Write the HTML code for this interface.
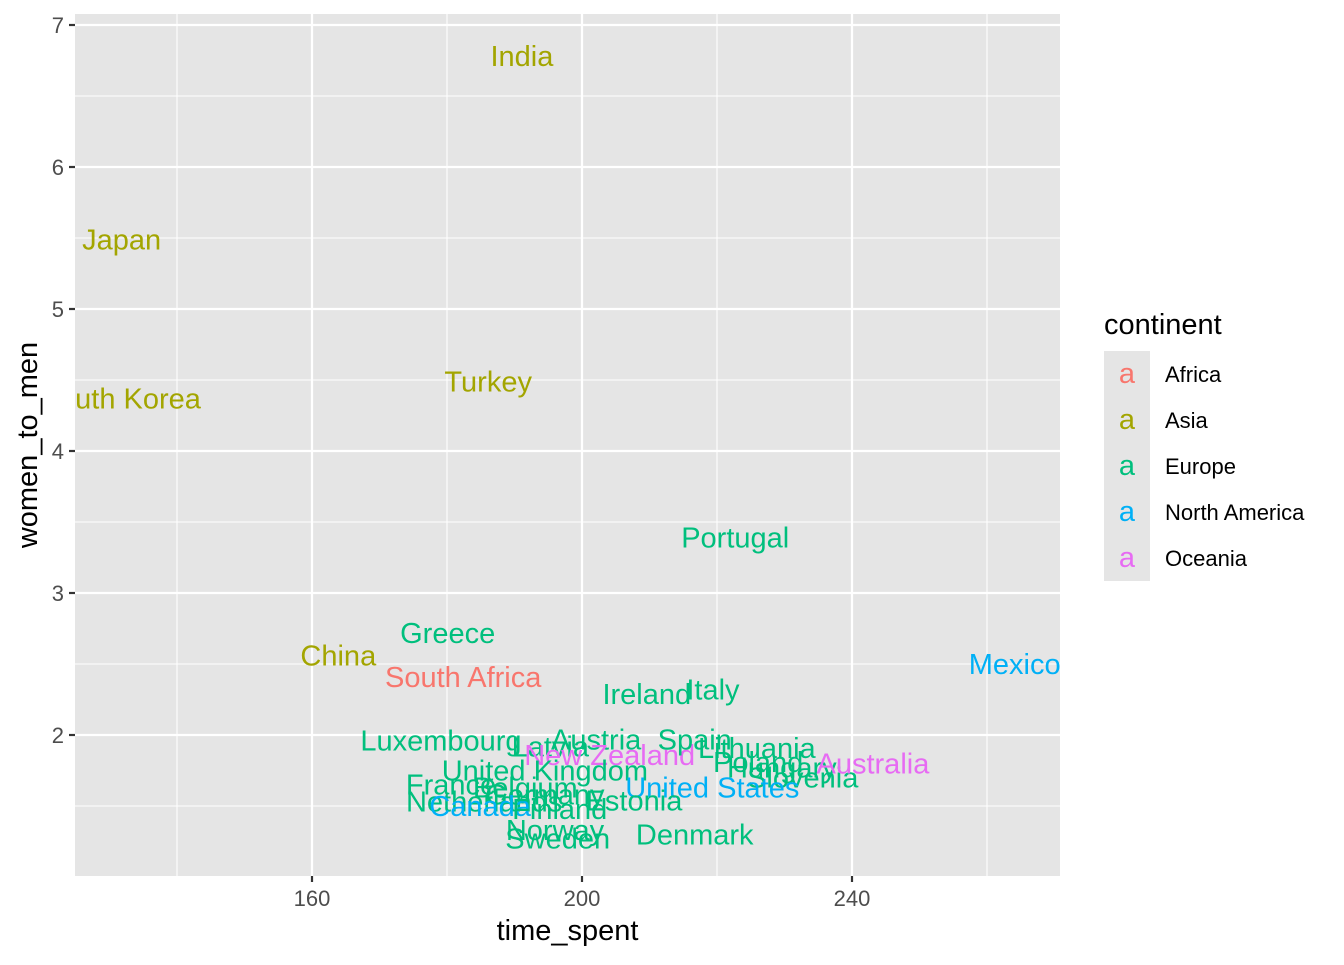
<!DOCTYPE html>
<html><head><meta charset="utf-8"><style>
body{margin:0;background:#fff;font-family:"Liberation Sans",Arial,sans-serif}
</style></head><body>
<svg id="chart" width="1344" height="960" xmlns="http://www.w3.org/2000/svg"></svg>
<script>
const countries=["India","Japan","South Korea","Turkey","Portugal","Greece","China","South Africa","Mexico","Ireland","Italy","Luxembourg","Austria","Latvia","New Zealand","Spain","Lithuania","Poland","Hungary","Slovenia","Australia","United Kingdom","France","Belgium","Germany","United States","Estonia","Netherlands","Canada","Finland","Norway","Sweden","Denmark"];
const continents=["Asia","Asia","Asia","Asia","Europe","Europe","Asia","Africa","North America","Europe","Europe","Europe","Europe","Europe","Oceania","Europe","Europe","Europe","Europe","Europe","Oceania","Europe","Europe","Europe","Europe","North America","Europe","Europe","North America","Europe","Europe","Europe","Europe"];
const timeSpent=[191.1,131.8,131.6,186.1,222.7,180.1,163.9,182.4,264.1,209.6,219.4,179.1,202.1,195.3,204.1,216.7,225.9,226.1,229.6,232.7,243.1,194.5,180.6,191.6,194.5,219.3,207.7,185.5,184.9,196.7,196.0,196.4,216.7];
const womenToMen=[6.78,5.49,4.37,4.49,3.39,2.72,2.56,2.41,2.50,2.29,2.32,1.96,1.97,1.92,1.86,1.97,1.91,1.81,1.77,1.70,1.80,1.75,1.65,1.63,1.58,1.63,1.54,1.53,1.50,1.48,1.33,1.27,1.30];
const legendNames=["Africa","Asia","Europe","North America","Oceania"];
const legendColors=["#F8766D","#A3A500","#00BF7D","#00B0F6","#E76BF3"];
const xTicks=[160,200,240];
const yTicks=[2,3,4,5,6,7];

const NS="http://www.w3.org/2000/svg";
const svg=document.getElementById('chart');
const P={l:75,r:1060,t:14,b:876};
const xs=v=>312+(v-160)*6.75;
const ys=v=>735-(v-2)*142;
function mk(tag,attrs,parent){const e=document.createElementNS(NS,tag);for(const k in attrs)e.setAttribute(k,attrs[k]);(parent||svg).appendChild(e);return e;}

const bg=mk('rect',{x:P.l,y:P.t,width:P.r-P.l,height:P.b-P.t,fill:'#E5E5E5'});


const grid=mk('g',{});


for(let i=0;i<xTicks.length+1;i++){const v=xTicks[0]-20+i*40;const x=xs(v);if(x>P.l&&x<P.r)mk('line',{x1:x,x2:x,y1:P.t,y2:P.b,stroke:'#fff','stroke-width':1.1},grid);}
for(let i=0;i<yTicks.length+1;i++){const v=yTicks[0]-0.5+i;const y=ys(v);if(y>P.t&&y<P.b)mk('line',{x1:P.l,x2:P.r,y1:y,y2:y,stroke:'#fff','stroke-width':1.1},grid);}
xTicks.forEach(v=>{const x=xs(v);mk('line',{x1:x,x2:x,y1:P.t,y2:P.b,stroke:'#fff','stroke-width':2.2},grid);
 mk('line',{x1:x,x2:x,y1:P.b,y2:P.b+6,stroke:'#333','stroke-width':2.2});
 const t=mk('text',{x:x,y:906,'text-anchor':'middle','font-size':22,fill:'#4D4D4D'});t.textContent=v;
 
 });
yTicks.forEach(v=>{const y=ys(v);mk('line',{x1:P.l,x2:P.r,y1:y,y2:y,stroke:'#fff','stroke-width':2.2},grid);
 mk('line',{x1:P.l-6,x2:P.l,y1:y,y2:y,stroke:'#333','stroke-width':2.2});
 const t=mk('text',{x:P.l-11,y:y+8,'text-anchor':'end','font-size':22,fill:'#4D4D4D'});t.textContent=v;
 
 });

const clip=mk('clipPath',{id:'pc'});mk('rect',{x:P.l,y:P.t,width:P.r-P.l,height:P.b-P.t},clip);
const lab=mk('g',{'clip-path':'url(#pc)'});


countries.forEach((c,i)=>{const col=legendColors[legendNames.indexOf(continents[i])];
 const t=mk('text',{x:xs(timeSpent[i]),y:ys(womenToMen[i])+10,'text-anchor':'middle','font-size':29,fill:col},lab);t.textContent=c;
 
 });

let t=mk('text',{x:(P.l+P.r)/2,y:940,'text-anchor':'middle','font-size':29,fill:'#000'});t.textContent='time_spent';


t=mk('text',{x:0,y:0,'text-anchor':'middle','font-size':29,fill:'#000',transform:'translate(37,445) rotate(-90)'});t.textContent='women_to_men';


t=mk('text',{x:1104,y:334,'font-size':29,fill:'#000'});t.textContent='continent';


legendNames.forEach((n,i)=>{const y0=351+i*46;
 const g=mk('g',{});
 
 
 mk('rect',{x:1104,y:y0,width:46,height:46,fill:'#E5E5E5'},g);
 const a=mk('text',{x:1127,y:y0+32,'text-anchor':'middle','font-size':29,fill:legendColors[i]},g);a.textContent='a';
 const l=mk('text',{x:1165,y:y0+31,'font-size':22,fill:'#000'},g);l.textContent=n;});
</script>
</body></html>
